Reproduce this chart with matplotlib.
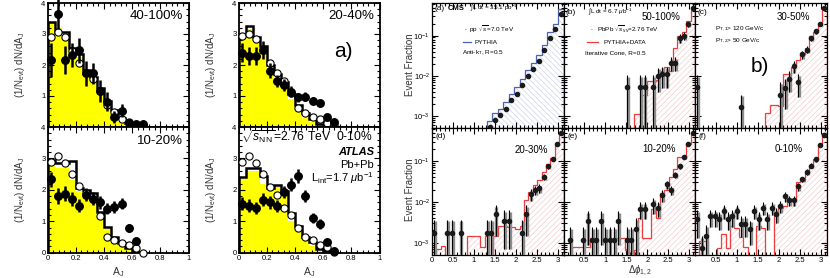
import numpy as np
import matplotlib
matplotlib.use("Agg")
import matplotlib.pyplot as plt
from matplotlib.ticker import MultipleLocator, LogLocator, NullFormatter

plt.rcParams.update({
    "font.family": ["Liberation Sans", "DejaVu Sans"],
    "mathtext.fontset": "custom",
    "mathtext.rm": "Liberation Sans",
    "mathtext.it": "Liberation Sans:italic",
    "mathtext.bf": "Liberation Sans:bold",
    "hatch.linewidth": 0.5,
})

# ---------------- a) ATLAS dijet asymmetry A_J ----------------
AJ_EDGES = [0.0, 0.05, 0.10, 0.15, 0.20, 0.25, 0.30, 0.35, 0.40, 0.45, 0.50, 0.55, 0.60, 0.65, 0.70]
AJ_CENTERS = [0.025, 0.075, 0.125, 0.175, 0.225, 0.275, 0.325, 0.375, 0.425, 0.475, 0.525, 0.575, 0.625, 0.675]

# 40-100%
hij_40100 = [3.35, 3.2, 2.95, 2.45, 2.25, 1.75, 1.5, 1.1, 0.75, 0.45, 0.2, 0.07, 0.02, 0.0]
mc_40100 = [3.4, 3.05, 3.05, 2.55, 2.35, 1.85, 1.6, 1.25, 0.85, 0.55, 0.3, 0.12, 0.05, 0.02]
pp_40100 = [2.9, 3.05, 2.9, 2.45, 2.05, 1.75, 1.55, 1.15, 0.7, 0.5, 0.25, 0.15, 0.05, 0.02]
pb_x_40100 = [0.025, 0.075, 0.125, 0.175, 0.225, 0.275, 0.325, 0.375, 0.425, 0.475, 0.525, 0.575, 0.625, 0.675]
pb_40100 = [2.16, 3.65, 2.16, 2.32, 2.48, 1.73, 1.73, 1.17, 0.82, 0.33, 0.53, 0.14, 0.1, 0.1]
pb_err_40100 = [0.55, 0.5, 0.45, 0.4, 0.4, 0.4, 0.35, 0.35, 0.3, 0.2, 0.2, 0.1, 0.08, 0.08]

# 20-40%
hij_2040 = [2.9, 3.15, 2.8, 2.45, 1.9, 1.55, 1.3, 0.9, 0.55, 0.3, 0.15, 0.05, 0.02, 0.0]
mc_2040 = [2.97, 3.26, 2.9, 2.6, 2.0, 1.7, 1.45, 1.05, 0.7, 0.45, 0.25, 0.1, 0.04, 0.0]
pp_2040 = [2.95, 3.0, 2.85, 2.5, 2.05, 1.75, 1.5, 1.1, 0.62, 0.45, 0.33, 0.25, 0.12, 0.05]
pb_x_2040 = [0.025, 0.075, 0.125, 0.175, 0.225, 0.275, 0.325, 0.375, 0.425, 0.475, 0.525, 0.575, 0.625, 0.675]
pb_2040 = [2.4, 2.29, 2.29, 2.48, 1.82, 1.49, 1.35, 1.14, 0.96, 0.98, 0.85, 0.76, 0.31, 0.16]
pb_err_2040 = [0.3, 0.3, 0.3, 0.3, 0.25, 0.2, 0.2, 0.18, 0.15, 0.15, 0.12, 0.12, 0.08, 0.06]

# 10-20%
hij_1020 = [2.75, 2.7, 2.7, 2.3, 1.95, 1.9, 1.7, 1.2, 0.75, 0.45, 0.25, 0.1, 0.02, 0.0]
mc_1020 = [2.95, 2.87, 2.87, 2.92, 2.06, 2.0, 1.9, 1.28, 0.83, 0.51, 0.3, 0.14, 0.03, 0.0]
pp_1020 = [2.9, 3.08, 2.87, 2.5, 2.12, 1.9, 1.7, 1.18, 0.49, 0.41, 0.3, 0.25, 0.14, 0.0]
pb_x_1020 = [0.025, 0.075, 0.125, 0.175, 0.225, 0.275, 0.325, 0.375, 0.425, 0.475, 0.525, 0.575, 0.625]
pb_1020 = [2.33, 1.8, 1.88, 1.71, 1.5, 1.85, 1.72, 1.6, 1.4, 1.45, 1.56, 0.78, 0.37]
pb_err_1020 = [0.25, 0.25, 0.25, 0.22, 0.2, 0.2, 0.2, 0.2, 0.18, 0.18, 0.18, 0.12, 0.1]

# 0-10%
hij_010 = [2.35, 2.6, 2.6, 2.2, 2.0, 2.1, 1.85, 1.0, 0.7, 0.4, 0.2, 0.05, 0.0, 0.0]
mc_010 = [2.4, 2.7, 2.7, 2.45, 2.05, 2.15, 1.95, 1.25, 0.85, 0.5, 0.35, 0.12, 0.05, 0.0]
pp_010 = [2.89, 3.08, 2.87, 2.5, 2.1, 1.85, 1.42, 1.21, 0.78, 0.49, 0.41, 0.25, 0.19, 0.02]
pb_x_010 = [0.025, 0.075, 0.125, 0.175, 0.225, 0.275, 0.325, 0.375, 0.425, 0.475, 0.525, 0.575, 0.625, 0.675]
pb_010 = [1.56, 1.5, 1.42, 1.69, 1.6, 1.48, 1.93, 2.17, 2.44, 1.8, 1.1, 0.92, 0.35, 0.06]
pb_err_010 = [0.2, 0.2, 0.2, 0.2, 0.2, 0.2, 0.2, 0.22, 0.22, 0.2, 0.15, 0.15, 0.1, 0.06]

AJ_TICKS = [0, 0.2, 0.4, 0.6, 0.8, 1.0]
AJ_TICK_LABELS = ["0", "0.2", "0.4", "0.6", "0.8", "1"]

# ---------------- b) CMS dijet azimuthal correlation ----------------
PP_EDGES = np.linspace(0, np.pi, 25)
PB_EDGES = np.linspace(0, np.pi, 31)

pythia_pp = [0, 0, 0, 0, 0, 0, 0, 0, 0, 0, 7.5e-4, 1.15e-3, 1.5e-3, 2.2e-3, 3.5e-3, 5.2e-3,
             8.5e-3, 0.014, 0.021, 0.033, 0.06, 0.12, 0.2, 0.45]
pp_dphi_x = [1.374, 1.505, 1.636, 1.767, 1.898, 2.029, 2.160, 2.291, 2.422, 2.553, 2.683, 2.814, 2.945, 3.076]
pp_dphi_y = [5.3e-4, 8.1e-4, 1.05e-3, 1.5e-3, 2.5e-3, 3.6e-3, 6e-3, 9.8e-3, 0.0146, 0.023, 0.043, 0.088, 0.146, 0.35]

# 50-100%
emb_50100 = [0] * 16 + [1.1e-3, 1.1e-3, 3.4e-3, 7.3e-3, 7.3e-3, 7.8e-3, 0.013, 0.017, 0.013, 0.05,
                        0.1, 0.12, 0.23, 0.45]
x_50100 = [1.518, 1.833, 1.937, 2.147, 2.251, 2.356, 2.461, 2.566, 2.670, 2.775, 2.880, 2.985, 3.089]
y_50100 = [5.3e-3, 5.3e-3, 5.3e-3, 5.3e-3, 0.010, 0.011, 0.011, 0.021, 0.021, 0.087, 0.10, 0.19, 0.5]
e_50100 = [5.3e-3, 5.3e-3, 5.3e-3, 5.3e-3, 0.006, 0.006, 0.006, 0.008, 0.008, 0.02, 0.022, 0.03, 0.05]

# 30-50%
emb_3050 = [0] * 16 + [1.2e-3, 1.9e-3, 1.9e-3, 1.8e-3, 0.011, 0.011, 0.017, 0.025, 0.035, 0.05,
                       0.1, 0.125, 0.2, 0.45]
x_3050 = [0.052, 1.100, 2.042, 2.147, 2.251, 2.356, 2.461, 2.566, 2.670, 2.775, 2.880, 2.985, 3.089]
y_3050 = [5.3e-3, 1.7e-3, 3.4e-3, 5e-3, 8.5e-3, 0.0175, 6.9e-3, 0.034, 0.045, 0.087, 0.13, 0.2, 0.5]
e_3050 = [5.3e-3, 1.7e-3, 3.4e-3, 3.5e-3, 4.5e-3, 6e-3, 4e-3, 8e-3, 9e-3, 0.013, 0.017, 0.022, 0.04]

# 20-30%
emb_2030 = [0, 7e-4, 8.1e-4, 0, 0, 0, 0, 0, 1.5e-3, 1.5e-3, 1.5e-3, 8e-4, 1.5e-3, 0, 1.5e-3,
            2.5e-3, 2.5e-3, 2.4e-3, 2.4e-3, 2.2e-3, 2.5e-3, 0.011, 0.0175, 0.026, 0.035, 0.053,
            0.086, 0.12, 0.25, 0.5]
x_2030 = [0.052, 0.367, 0.471, 0.681, 1.309, 1.414, 1.518, 1.728, 1.833, 2.147, 2.251, 2.356,
          2.461, 2.566, 2.670, 2.775, 2.880, 2.985, 3.089]
y_2030 = [1.7e-3, 1.7e-3, 1.7e-3, 1.7e-3, 1.7e-3, 1.7e-3, 5e-3, 3.5e-3, 3.5e-3, 1.7e-3, 5e-3,
          0.0155, 0.02, 0.022, 0.042, 0.075, 0.115, 0.27, 0.5]
e_2030 = [2e-3, 2e-3, 2e-3, 2e-3, 2e-3, 2e-3, 3.5e-3, 2.8e-3, 2.8e-3, 2e-3, 3.5e-3, 5e-3, 5e-3,
          5e-3, 7e-3, 0.01, 0.013, 0.02, 0.035]

# 10-20%
emb_1020 = [0, 0, 8e-4, 8e-4, 8e-4, 8e-4, 1.3e-3, 0, 0, 0, 0, 0, 1.3e-3, 1.3e-3, 6.7e-4, 0,
            6.7e-4, 4.1e-3, 1.3e-3, 1.3e-3, 6.6e-3, 4e-3, 0.017, 0.02, 0.04, 0.065, 0.125, 0.125,
            0.27, 0.5]
x_1020 = [0.157, 0.471, 0.576, 0.681, 0.785, 0.890, 0.995, 1.100, 1.204, 1.309, 1.518, 1.623,
          1.728, 1.833, 1.937, 2.147, 2.251, 2.356, 2.461, 2.566, 2.670, 2.775, 2.880, 2.985, 3.089]
y_1020 = [1.15e-3, 1.15e-3, 3.4e-3, 1.15e-3, 1.15e-3, 3.4e-3, 1.15e-3, 1.15e-3, 1.15e-3, 3.4e-3,
          1.15e-3, 1.15e-3, 2.2e-3, 6.9e-3, 6.9e-3, 8.7e-3, 7.2e-3, 0.0146, 0.027, 0.02, 0.046,
          0.075, 0.125, 0.27, 0.5]
e_1020 = [1.3e-3, 1.3e-3, 2.5e-3, 1.3e-3, 1.3e-3, 2.5e-3, 1.3e-3, 1.3e-3, 1.3e-3, 2.5e-3, 1.3e-3,
          1.3e-3, 1.8e-3, 3e-3, 3e-3, 3.5e-3, 3e-3, 4.5e-3, 6e-3, 5e-3, 7e-3, 0.01, 0.013, 0.02, 0.03]

# 0-10%
emb_010 = [0, 1.1e-3, 1.1e-3, 0, 0, 7.5e-4, 1.6e-3, 7.5e-4, 2.5e-3, 2.3e-3, 1.4e-3, 8e-4, 0, 0,
           2.6e-3, 2.3e-3, 0, 0, 5.5e-3, 7.3e-3, 8e-3, 0.01, 0.011, 0.03, 0.033, 0.05, 0.075,
           0.11, 0.26, 0.5]
x_010 = [0.052, 0.157, 0.262, 0.367, 0.471, 0.576, 0.681, 0.785, 0.890, 0.995, 1.100, 1.204,
         1.309, 1.414, 1.518, 1.623, 1.728, 1.833, 1.937, 2.042, 2.147, 2.251, 2.356, 2.461,
         2.566, 2.670, 2.775, 2.880, 2.985, 3.089]
y_010 = [3.8e-3, 7.5e-4, 1.5e-3, 4.4e-3, 4.4e-3, 3.8e-3, 6e-3, 3.8e-3, 4.4e-3, 6e-3, 2.9e-3,
         2.9e-3, 2.2e-3, 6e-3, 3.8e-3, 7.3e-3, 3.8e-3, 7.3e-3, 5e-3, 8e-3, 0.0136, 0.011, 0.011,
         0.024, 0.036, 0.055, 0.078, 0.11, 0.25, 0.45]
e_010 = [2.5e-3, 7e-4, 1.2e-3, 2e-3, 2e-3, 1.8e-3, 2.2e-3, 1.8e-3, 2e-3, 2.2e-3, 1.5e-3, 1.5e-3,
         1.3e-3, 2.2e-3, 1.8e-3, 2.5e-3, 1.8e-3, 2.5e-3, 2e-3, 2.5e-3, 3.5e-3, 3e-3, 3e-3, 5e-3,
         6e-3, 8e-3, 0.01, 0.012, 0.02, 0.03]

DPHI_TICKS = [0, 0.5, 1, 1.5, 2, 2.5, 3]
DPHI_TICK_LABELS = ["0", "0.5", "1", "1.5", "2", "2.5", "3"]
EF_TICKS = [1e-3, 1e-2, 1e-1]
EF_TICK_LABELS = [r"10$^{-3}$", r"10$^{-2}$", r"10$^{-1}$"]

W, H = 830, 278
fig = plt.figure(figsize=(W / 100, H / 100), dpi=100)


def place(x0, y0, x1, y1):
    # axes from pixel box (top-left origin)
    return fig.add_axes([x0 / W, 1 - y1 / H, (x1 - x0) / W, (y1 - y0) / H])


def atlas_panel(ax, hij, mc, pp, pb_x, pb, pb_err, label, top):
    ax.stairs(hij, AJ_EDGES, fill=True, color="#ffff00", baseline=0, zorder=1)
    ax.stairs(mc, AJ_EDGES, color="black", lw=1.8, baseline=0, zorder=2)
    ax.plot(AJ_CENTERS, pp, "o", mfc="white", mec="black", mew=0.8, ms=5.2, zorder=3, clip_on=False)
    ax.errorbar(pb_x, pb, yerr=pb_err, fmt="o", color="black", ms=5.4, elinewidth=1.8,
                capsize=0, zorder=4, clip_on=False)
    ax.set_xlim(0, 1)
    ax.set_ylim(0, 4)
    ax.xaxis.set_minor_locator(MultipleLocator(0.04))
    ax.yaxis.set_minor_locator(MultipleLocator(0.2))
    if top:
        ax.set_xticks(AJ_TICKS, [""] * len(AJ_TICKS))
        ax.set_yticks([0, 1, 2, 3, 4], ["", "1", "2", "3", "4"])
    else:
        ax.set_xticks(AJ_TICKS, AJ_TICK_LABELS)
        ax.set_yticks([0, 1, 2, 3, 4], ["0", "1", "2", "3", "4"])
    ax.tick_params(which="both", direction="in", top=True, right=True, labelsize=5.5, pad=1.5,
                   width=0.8)
    ax.tick_params(which="major", length=4)
    ax.tick_params(which="minor", length=2)
    for s in ax.spines.values():
        s.set_linewidth(1.3)
    if label:
        ax.text(0.96, 0.94, label, transform=ax.transAxes, ha="right", va="top", fontsize=9.5)


ax_tl = place(47.5, 3, 188.5, 127)
ax_tr = place(238.5, 3, 379.5, 127)
ax_bl = place(47.5, 127, 188.5, 252.7)
ax_br = place(238.5, 127, 379.5, 252.7)

atlas_panel(ax_tl, hij_40100, mc_40100, pp_40100, pb_x_40100, pb_40100, pb_err_40100, "40-100%", True)
atlas_panel(ax_tr, hij_2040, mc_2040, pp_2040, pb_x_2040, pb_2040, pb_err_2040, "20-40%", True)
atlas_panel(ax_bl, hij_1020, mc_1020, pp_1020, pb_x_1020, pb_1020, pb_err_1020, "10-20%", False)
atlas_panel(ax_br, hij_010, mc_010, pp_010, pb_x_010, pb_010, pb_err_010, None, False)

ylab = r"(1/N$_{\rm evt}$) dN/dA$_{\rm J}$"
for xp, yp in [(20, 65), (211, 65), (20, 190), (211, 190)]:
    fig.text(xp / W, 1 - yp / H, ylab, rotation=90, ha="center", va="center", fontsize=7, color="#333333")
for xp in [118, 309]:
    fig.text(xp / W, 1 - 272 / H, r"A$_{\rm J}$", ha="center", va="center", fontsize=7.5, color="#333333")

fig.text(343 / W, 1 - 52 / H, "a)", ha="center", va="center", fontsize=15)
ax_br.text(0.02, 0.99, r"$\sqrt{s_{\rm NN}}$=2.76 TeV  0-10%", transform=ax_br.transAxes,
           ha="left", va="top", fontsize=8.7)
ax_br.text(0.96, 0.8, "ATLAS", transform=ax_br.transAxes, ha="right", va="center",
           fontsize=8, fontweight="bold", style="italic")
ax_br.text(0.96, 0.695, "Pb+Pb", transform=ax_br.transAxes, ha="right", va="center", fontsize=8)
ax_br.text(0.96, 0.59, r"L$_{\rm int}$=1.7 $\mu$b$^{-1}$", transform=ax_br.transAxes,
           ha="right", va="center", fontsize=8)


# ---------------- CMS panels ----------------
def cms_panel(ax, edges, hist, line_color, hatch_color, hatch, px, py, perr, syst):
    vals = np.where(np.array(hist) > 0, hist, 1e-7)
    ax.stairs(vals, edges, fill=True, facecolor="none", edgecolor=hatch_color, hatch=hatch,
              lw=0, baseline=1e-7, zorder=1)
    ax.stairs(vals, edges, color=line_color, lw=0.9, baseline=1e-7, zorder=2)
    px = np.array(px)
    py = np.array(py)
    perr = np.array(perr)
    lo = np.maximum(py - perr, 1e-7)
    hi = py + perr
    if syst:
        ax.vlines(px + 0.02, lo, hi * 0.9, color="#8c8c8c", lw=2.4, zorder=3)
    ax.vlines(px, lo, hi, color="black", lw=0.8, zorder=4)
    ax.plot(px, py, "o", color="#1a1a1a", ms=3, zorder=5)
    ax.set_xlim(0, np.pi)
    ax.set_yscale("log")
    ax.set_ylim(5e-4, 0.65)
    ax.set_xticks(DPHI_TICKS, [""] * len(DPHI_TICKS))
    ax.set_yticks(EF_TICKS, [""] * len(EF_TICKS))
    ax.tick_params(which="both", direction="in", top=True, right=True, labelsize=5.5, pad=1.5,
                   width=0.8)
    ax.tick_params(which="major", length=4.5)
    ax.tick_params(which="minor", length=2.2)
    for s in ax.spines.values():
        s.set_linewidth(0.9)


cx = [432, 563.5, 695, 826.5]
cy = [3, 128, 255]
cms_axes = []
for r in range(2):
    for c in range(3):
        cms_axes.append(place(cx[c], cy[r], cx[c + 1], cy[r + 1]))
ax_a, ax_b, ax_c, ax_d, ax_e, ax_f = cms_axes

RED, PINK = "#ee3b3b", "#f5cccc"
BLUE, LBLUE = "#4a62b0", "#cdd4ea"
cms_panel(ax_a, PP_EDGES, pythia_pp, BLUE, LBLUE, "\\\\\\\\\\\\", pp_dphi_x, pp_dphi_y,
          [0] * len(pp_dphi_x), False)
cms_panel(ax_b, PB_EDGES, emb_50100, RED, PINK, "//////", x_50100, y_50100, e_50100, True)
cms_panel(ax_c, PB_EDGES, emb_3050, RED, PINK, "//////", x_3050, y_3050, e_3050, True)
cms_panel(ax_d, PB_EDGES, emb_2030, RED, PINK, "//////", x_2030, y_2030, e_2030, True)
cms_panel(ax_e, PB_EDGES, emb_1020, RED, PINK, "//////", x_1020, y_1020, e_1020, True)
cms_panel(ax_f, PB_EDGES, emb_010, RED, PINK, "//////", x_010, y_010, e_010, True)

for ax in [ax_a, ax_d]:
    ax.set_yticks(EF_TICKS, EF_TICK_LABELS)
ax_d.set_xticks(DPHI_TICKS, DPHI_TICK_LABELS)
for ax in [ax_e, ax_f]:
    ax.set_xticks(DPHI_TICKS, [""] + DPHI_TICK_LABELS[1:])
for ax in cms_axes:
    ax.xaxis.set_minor_locator(MultipleLocator(0.1))
    ax.yaxis.set_minor_locator(LogLocator(base=10, subs=np.arange(2, 10) * 1.0, numticks=10))
    ax.yaxis.set_minor_formatter(NullFormatter())

for yp in [65, 190]:
    fig.text(410 / W, 1 - yp / H, "Event Fraction", rotation=90, ha="center", va="center",
             fontsize=7, color="#333333")
fig.text(640 / W, 1 - 271 / H, r"$\Delta\phi_{1,2}$", ha="center", va="center", fontsize=7,
         color="#333333")


def ftxt(x, y, s, **kw):
    kw.setdefault("fontsize", 4.6)
    kw.setdefault("ha", "left")
    kw.setdefault("va", "center")
    fig.text(x / W, 1 - y / H, s, **kw)


ftxt(434, 8, "(a)", fontsize=6)
ftxt(448, 8, "CMS", fontsize=5.5, fontweight="bold")
ftxt(470, 8, r"$\int$L dt = 35.1 pb$^{-1}$")
ftxt(464, 29, r"$\bullet$  pp $\sqrt{s}$=7.0 TeV")
ftxt(474, 42, "PYTHIA")
fig.add_artist(plt.Line2D([463 / W, 471 / W], [1 - 42 / H, 1 - 42 / H], color=BLUE, lw=0.9))
ftxt(462, 53, r"Anti-k$_{\rm T}$, R=0.5")

ftxt(566, 12, "(b)", fontsize=6)
ftxt(588, 12, r"$\int$L dt = 6.7 $\mu$b$^{-1}$")
ftxt(642, 17, "50-100%", fontsize=7)
ftxt(590, 29, r"$\bullet$   PbPb $\sqrt{s}_{_{NN}}$=2.76 TeV")
ftxt(603, 42, "PYTHIA+DATA")
fig.add_artist(plt.Line2D([587 / W, 598 / W], [1 - 42 / H, 1 - 42 / H], color=RED, lw=0.9))
ftxt(585, 53, "Iterative Cone, R=0.5")

ftxt(697, 13, "(c)", fontsize=6)
ftxt(777, 17, "30-50%", fontsize=7)
ftxt(715, 29, r"P$_{\rm T,1}$> 120 GeV/c")
ftxt(715, 41, r"P$_{\rm T,2}$> 50 GeV/c")
ftxt(760, 66, "b)", fontsize=15, ha="center")

ftxt(435, 137, "(d)", fontsize=6)
ftxt(515, 150, "20-30%", fontsize=7)
ftxt(567, 137, "(e)", fontsize=6)
ftxt(642, 149, "10-20%", fontsize=7)
ftxt(698, 137, "(f)", fontsize=6)
ftxt(775, 149, "0-10%", fontsize=7)

fig.savefig("out.png", dpi=100, facecolor="white")
